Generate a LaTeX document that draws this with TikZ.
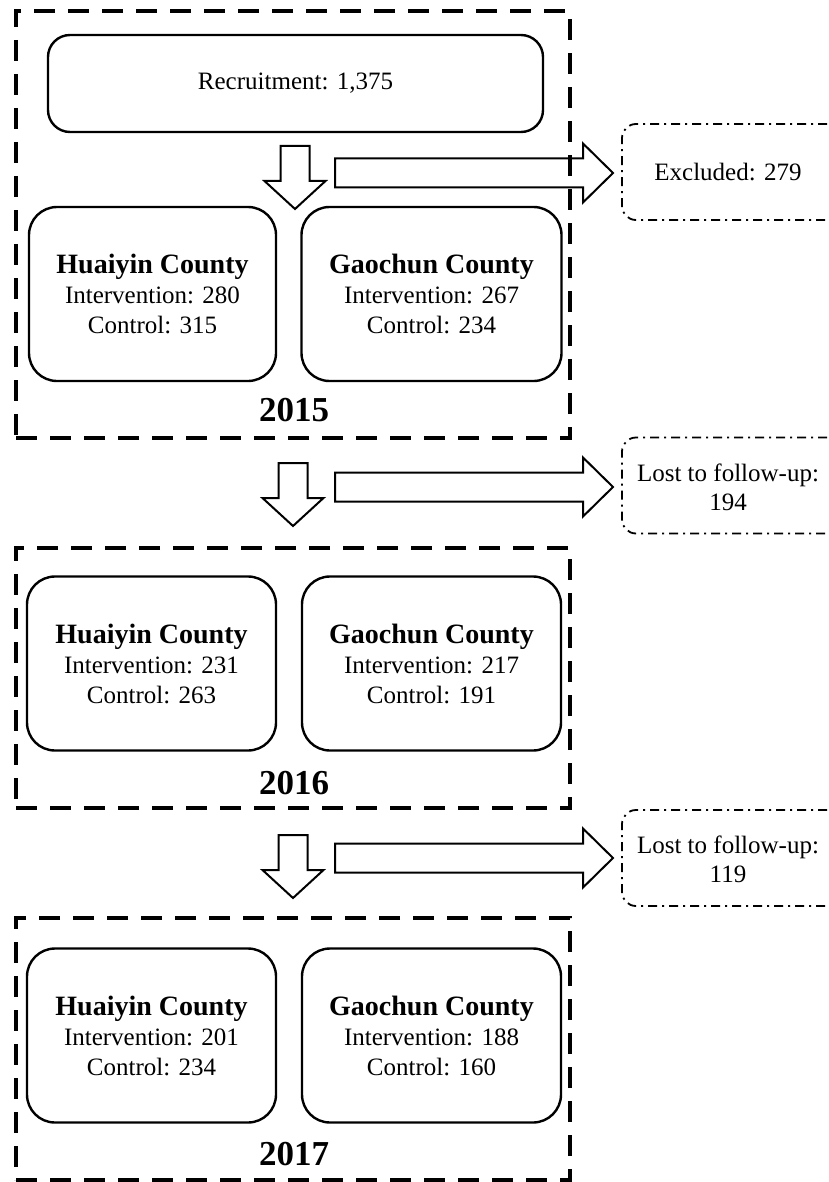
\documentclass[tikz,border=0pt]{standalone}
\usepackage{fontspec}
\setmainfont{Liberation Serif}
\tikzset{
  yearframe/.style={draw, line width=4.5pt, dash pattern=on 21pt off 13pt, inner sep=0pt},
  roundbox/.style={draw, line width=2.4pt, rounded corners=22pt, align=center,
    font=\fontsize{25}{30}\selectfont},
  county/.style={roundbox, rounded corners=28pt, minimum height=174pt},
  lostbox/.style={draw, line width=1.8pt, dash pattern=on 9pt off 5pt on 2pt off 5pt,
    rounded corners=14pt, minimum width=240pt, minimum height=96pt},
  losttext/.style={align=center, font=\fontsize{25}{29}\selectfont},
  yearlabel/.style={font=\fontsize{35}{40}\selectfont\bfseries},
  blockline/.style={line width=2pt, line join=miter},
  downblock/.pic={\draw[blockline] (-14.5,0) -- (14.5,0) -- (14.5,35) -- (30.5,35)
    -- (0,63) -- (-30.5,35) -- (-14.5,35) -- cycle;},
  rightblock/.pic={\draw[blockline] (0,-14.5) -- (248,-14.5) -- (248,-29.5) -- (278,0)
    -- (248,29.5) -- (248,14.5) -- (0,14.5) -- cycle;}
}
\newcommand{\cty}[3]{{\fontsize{28}{30}\selectfont\bfseries #1}\\Intervention: #2\\Control: #3}
\begin{document}
\begin{tikzpicture}[x=1pt, y=-1pt]
  \useasboundingbox (0,0) rectangle (828,1182);
  \clip (0,0) rectangle (828,1182);
  % 2015
  \node[roundbox, minimum width=495pt, minimum height=97pt] (rec) at (295.5,83.5) {Recruitment: 1,375};
  \pic (d1) at (295,146) {downblock};
  \pic (r1) at (335,173) {rightblock};
  \node[lostbox] (excl) at (742,172) {};
  \node[losttext] (exclt) at (728,172) {Excluded: 279};
  \node[county, minimum width=247pt] (hy15) at (152.5,294) {\cty{Huaiyin County}{280}{315}};
  \node[county, minimum width=260pt] (gc15) at (431.5,294) {\cty{Gaochun County}{267}{234}};
  \node[yearlabel] (t15) at (294,410) {2015};
  \node[yearframe, minimum width=554pt, minimum height=427pt] (f15) at (293,224.5) {};
  % 2016
  \pic (d2) at (293,463) {downblock};
  \pic (r2) at (335,487) {rightblock};
  \node[lostbox] (lost16) at (742,485.5) {};
  \node[losttext] (lost16t) at (728,487) {Lost to follow-up:\\194};
  \node[county, minimum width=249pt] (hy16) at (151.5,663.5) {\cty{Huaiyin County}{231}{263}};
  \node[county, minimum width=259pt] (gc16) at (431.5,663.5) {\cty{Gaochun County}{217}{191}};
  \node[yearlabel] (t16) at (294,783) {2016};
  \node[yearframe, minimum width=554pt, minimum height=260pt] (f16) at (293,678) {};
  % 2017
  \pic (d3) at (293,835) {downblock};
  \pic (r3) at (335,858) {rightblock};
  \node[lostbox] (lost17) at (742,858) {};
  \node[losttext] (lost17t) at (728,859.5) {Lost to follow-up:\\119};
  \node[county, minimum width=249pt] (hy17) at (151.5,1035.5) {\cty{Huaiyin County}{201}{234}};
  \node[county, minimum width=259pt] (gc17) at (431.5,1035.5) {\cty{Gaochun County}{188}{160}};
  \node[yearlabel] (t17) at (294,1154) {2017};
  \node[yearframe, minimum width=554pt, minimum height=262pt] (f17) at (293,1049) {};
\end{tikzpicture}
\end{document}
